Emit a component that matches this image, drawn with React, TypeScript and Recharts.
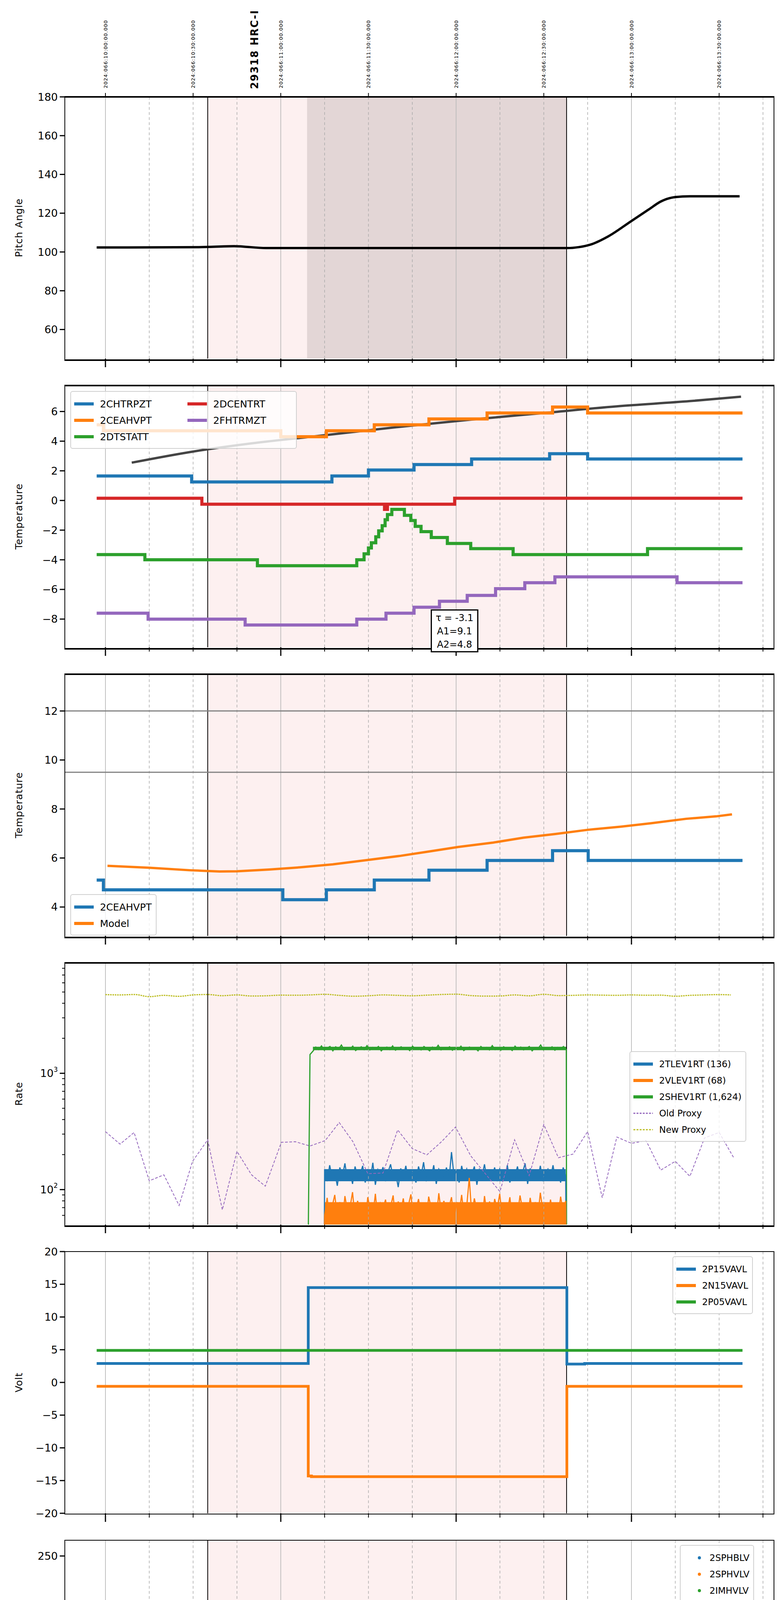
import React from 'react';
import { ComposedChart, Line, Scatter, Area, XAxis, YAxis, ReferenceLine, ReferenceArea } from 'recharts';

// ---------- time axis (minutes after 05:00) ----------
const xDomain: [number, number] = [-13.9, 228.5];
const bottomTicks = [0, 15, 30, 45, 60, 75, 90, 105, 120, 135, 150, 165, 180, 195, 210, 225];
const hourLabels = ['05h', '06h', '07h', '08h'];
const topTicks = [0, 30, 51, 60, 90, 120, 150, 180, 210];
const topTickLabels: Record<number, string> = {
  0: '2024:066:10:00:00.000', 30: '2024:066:10:30:00.000', 60: '2024:066:11:00:00.000',
  90: '2024:066:11:30:00.000', 120: '2024:066:12:00:00.000', 150: '2024:066:12:30:00.000',
  180: '2024:066:13:00:00.000', 210: '2024:066:13:30:00.000',
};
const obsTime = 51;
const obsLabel = '29318 HRC-I';
const shadeStart = 35;
const shadeEnd = 157.8;
const darkStart = 69;
const xLabel = '2024-03-06 (066)';

// ---------- panel 1 ----------
const pitchT = [-3, 32, 44, 55, 100, 158, 162, 166, 172, 180, 186, 190, 195, 200, 217];
const pitchV = [102.3, 102.5, 103, 102, 102, 102, 102.5, 103.8, 108, 116, 122, 126, 128.3, 128.7, 128.7];

// ---------- panel 2 ----------
const chtrpztT = [-3, 29.5, 77.5, 90, 105.6, 125.3, 152, 165, 218];
const chtrpztV = [1.65, 1.25, 1.65, 2.05, 2.42, 2.8, 3.15, 2.8, 2.8];
const ceahvptT = [-3, -0.7, 60, 75.6, 92, 110.7, 130.6, 153, 165, 218];
const ceahvptV = [5.1, 4.7, 4.3, 4.7, 5.1, 5.5, 5.9, 6.3, 5.9, 5.9];
const dtstattT = [-3, 13.5, 52, 86, 88.5, 90, 91, 92.5, 93.5, 94.7, 95.7, 96.5, 98, 102.3, 104.5, 106, 108, 111.5, 117, 125, 139.5, 185.5, 218];
const dtstattV = [-3.65, -4.0, -4.4, -4.0, -3.6, -3.2, -2.85, -2.45, -2.05, -1.7, -1.3, -0.95, -0.6, -1.0, -1.35, -1.75, -2.1, -2.5, -2.9, -3.25, -3.65, -3.25, -3.25];
const dcentrtT = [-3, 33, 95.5, 96.5, 119.5, 218];
const dcentrtV = [0.15, -0.25, -0.6, -0.25, 0.15, 0.15];
const fhtrmztT = [-3, 14.6, 47.8, 86, 96, 105.6, 114.3, 123.8, 133.5, 143.5, 153.8, 195.6, 218];
const fhtrmztV = [-7.6, -8.0, -8.4, -8.0, -7.6, -7.2, -6.8, -6.4, -5.95, -5.55, -5.15, -5.55, -5.55];
const fitT = [9, 30, 50, 75, 100, 125, 150, 175, 200, 217.5];
const fitV = [2.55, 3.3, 3.85, 4.4, 4.95, 5.45, 5.9, 6.35, 6.7, 7.0];
const fitText = ['τ = -3.1', 'A1=9.1', 'A2=4.8'];

// ---------- panel 3 ----------
const ceahvp3T = [-3, -0.7, 60.7, 75.6, 92, 110.7, 130.6, 153, 165.2, 218];
const ceahvp3V = [5.1, 4.7, 4.3, 4.7, 5.1, 5.5, 5.9, 6.3, 5.9, 5.9];
const modelT = [0.7, 15.2, 29, 39, 45, 56, 66.7, 77.8, 89.8, 101, 111, 120.7, 132.7, 143, 154, 165, 176.4, 186.7, 198.7, 209, 214.4];
const modelV = [5.68, 5.6, 5.5, 5.45, 5.46, 5.53, 5.62, 5.74, 5.92, 6.09, 6.27, 6.45, 6.63, 6.83, 6.98, 7.15, 7.28, 7.42, 7.6, 7.7, 7.78];
const limitLines = [12, 9.5];

// ---------- panel 4 ----------
const tlevRange = [75, 157.5];
const tlevV = [150,118,162,125,140,108,155,130,168,120,145,112,158,128,135,160,115,150,122,170,110,148,132,156,118,142,165,125,138,105,152,128,160,120,146,135,115,158,130,172,118,140,126,162,112,150,138,124,155,120,210,130,145,115,160,128,150,122,135,158,110,148,130,165,120,142,126,155,118,150,136,124,162,115,145,130,158,120,140,168,112,152,128,145,122,160,118,138,150,126,162,120,142,115,155,130];
const tlevBandT = [75, 157.5];
const tlevBandLo = [118, 118];
const tlevBandHi = [150, 150];
const vlevRange = [75, 157.5];
const vlevV = [60,85,55,72,90,58,78,52,88,65,70,95,56,80,62,74,50,86,66,59,92,54,76,68,82,57,71,89,53,79,64,84,58,73,91,55,67,83,60,77,52,87,69,75,56,93,62,80,58,70,86,54,78,63,90,57,72,126,59,84,66,74,51,88,61,79,55,83,68,92,57,71,64,86,53,76,60,89,67,73,56,85,62,78,58,94,65,70,54,82,61,77,59,87,63,80];
const vlevBandT = [75, 157.5];
const vlevBandLo = [50, 50];
const vlevBandHi = [78, 78];
const shevRange = [71, 157.7];
const shevV = [1550,1680,1600,1720,1580,1650,1700,1560,1690,1620,1750,1580,1660,1610,1710,1570,1640,1690,1600,1730,1590,1670,1620,1700,1560,1650,1680,1600,1720,1580,1640,1690,1610,1660,1570,1710,1620,1650,1590,1700,1630,1560,1680,1610,1740,1590,1650,1620,1690,1580,1660,1600,1710,1570,1640,1680,1610,1650,1560,1700,1620,1670,1590,1730,1600,1660,1580,1690,1620,1650,1570,1710,1610,1680,1590,1640,1700,1560,1660,1620,1750,1590,1650,1610,1690,1580,1670,1620,1700,1600];
const shevBandT = [71, 157.7];
const shevBandLo = [1580, 1580];
const shevBandHi = [1690, 1690];
const oldProxyT = [0,5,9.8,15,20,25.2,29.8,35,40,45,50,54.7,60.2,65,70,75.2,80,84.7,89.8,95,100,105,110,115,119.8,125,130,135,140,145,150,155,160,165,170,175,180,185,190,195,200,205,210,215];
const oldProxyV = [315,246,310,119,134,73,175,268,67,213,134,107,255,258,237,264,377,258,137,139,326,225,199,258,345,195,137,96,268,132,363,188,202,315,85,283,250,264,147,175,130,278,310,188];
const newProxyT = [0,5,10,15,20,25,30,35,40,45,50,55,60,65,70,75,80,85,90,95,100,105,110,115,120,125,130,135,140,145,150,155,160,165,170,175,180,185,190,195,200,205,210,214];
const newProxyV = [4750,4720,4760,4560,4680,4590,4720,4760,4650,4720,4620,4640,4700,4690,4720,4780,4680,4600,4640,4720,4680,4640,4700,4760,4790,4660,4610,4620,4720,4640,4780,4660,4680,4720,4700,4680,4720,4690,4700,4600,4680,4720,4750,4720];
const rateTicks = [60,70,80,90,100,200,300,400,500,600,700,800,900,1000,2000,3000,4000,5000,6000,7000,8000];

// ---------- panel 5 ----------
const p15T = [-3, 69.4, 157.9, 164, 218];
const p15V = [2.9, 14.5, 2.8, 2.9, 2.9];
const n15T = [-3, 69.4, 70.5, 157.9, 218];
const n15V = [-0.6, -14.3, -14.4, -0.6, -0.6];
const p05T = [-3, 218];
const p05V = [4.9, 4.9];

// ---------- panel 6 ----------
const imhblvPtsT = [70.3, 70.4, 70.5, 70.6, 70.8, 71.5, 72, 72.6, 73.2, 74];
const imhblvPtsV = [127, 126, 119, 106, 105, 101, 97, 93, 90, 87];
const imhblvT = [74.5, 158];
const imhblvV = [86, 86];
const imhvlvPtsT = [70.5, 71, 71.5, 72.2, 73, 73.8, 74.5];
const imhvlvPtsV = [100, 99, 96, 90, 86, 82, 80];
const imhvlvT = [75, 158];
const imhvlvV = [79, 79];

// ---------- panel 7 ----------
const spinT = [69.4, 85, 86.5, 87.5, 88.5, 89.5, 90.5, 92, 93.3, 94.7, 96.2, 98, 101.8, 104, 106, 108, 110.5, 114, 119.5, 127, 140, 157.2];
const spinV = [0.8, 1.3, 1.75, 2.2, 2.7, 3.2, 3.65, 4.15, 4.65, 5.2, 5.7, 6.2, 5.7, 5.15, 4.6, 4.1, 3.6, 3.15, 2.65, 2.2, 1.7, 1.7];
const sphvT = [69.4, 69.8, 76.5, 112.4, 138.3, 146.8, 147.2, 157.2];
const sphvV = [12.5, 13.0, 12.6, 13.0, 13.3, 12.9, 13.3, 13.3];
const iminT = [69.4, 71.5, 72.5, 98.4, 157.2];
const iminV = [-0.55, 0, -0.55, -0.1, -0.1];
const imhvT = [69.4, 69.6, 76, 85, 92.4, 100.6, 110, 119.8, 131, 143, 155.2, 155.6, 156.7, 157.8, 157.9];
const imhvV = [-5, 12.0, 12.3, 12.65, 13.0, 13.35, 13.65, 14.0, 14.3, 14.65, 15.0, 14.65, 15.0, -5, -5];

// ---------- panel 8 ----------
const fht8T = [-3, 14.6, 47.8, 86, 90, 90.6, 95.8, 105.6, 114.3, 123.8, 133.5, 143.5, 153.8, 195.6, 218];
const fht8V = [-7.6, -8.0, -8.4, -8.0, -7.6, -8.0, -7.6, -7.2, -6.8, -6.4, -6.0, -5.6, -5.2, -5.6, -5.6];
const fradT = [-3, 32.4, 67.9, 75.3, 86.7, 96.7, 105.9, 115.5, 125.5, 135.8, 147.2, 157.9, 172.4, 218];
const fradV = [-10.5, -10.9, -11.35, -10.9, -10.5, -10.05, -9.65, -9.2, -8.8, -8.4, -8.0, -7.6, -8.0, -8.0];
const feprT = [69.4, 69.5, 72.2, 75.3, 78, 81.6, 86.7, 93.2, 100.8, 109.2, 117.7, 127, 136.9, 147.6, 157.5, 157.6];
const feprV = [-9.7, -8.55, -8.1, -7.7, -7.3, -6.85, -6.45, -6.05, -5.6, -5.2, -4.75, -4.35, -3.95, -3.55, -5.7, -5.7];
const fe00T = [69.4, 69.5, 76, 76.5, 77, 77.5, 78.3, 84.4, 84.8, 86.2, 92.6, 93, 93.2, 96.4, 96.8, 99.6, 106.1, 112.9, 120.2, 122.4, 122.8, 124.8, 125.2, 127.5, 131.9, 132.3, 134.7, 142.9, 151.2, 157.8, 157.9];
const fe00V = [-13, -9.7, -10.45, -9.7, -10.45, -9.7, -9.3, -8.6, -9.3, -8.95, -9.75, -8.95, -8.55, -8.2, -8.55, -8.2, -7.85, -7.5, -7.1, -7.85, -7.1, -7.85, -7.1, -6.75, -6.4, -6.75, -6.4, -6.05, -5.7, -13, -13];

// ---------- helpers ----------
const C = { blue: '#1f77b4', orange: '#ff7f0e', green: '#2ca02c', red: '#d62728', purple: '#9467bd', olive: '#bcbd22' };
const zip = (t: number[], v: number[]) => t.map((x, i) => ({ t: x, v: v[i] }));
const band = (t: number[], lo: number[], hi: number[]) => t.map((x, i) => ({ t: x, r: [lo[i], hi[i]] }));
const spread = (r: number[], v: number[]) => v.map((y, i) => ({ t: r[0] + (i * (r[1] - r[0])) / (v.length - 1), v: y }));

const W = 2000;
const LEFT = 166;
const RIGHT = 20;
const PH = 670;
const FONT = 'DejaVu Sans, sans-serif';

const BottomTick = (showLabels: boolean) => (props: any) => {
  const { x, y, payload } = props;
  const v = payload.value;
  const major = v % 60 === 0;
  return (
    <g>
      <line x1={x} x2={x} y1={y} y2={y + (major ? 22 : 11)} stroke="#000" strokeWidth={major ? 3 : 2} />
      {showLabels && !major && (
        <text x={x} y={y + 30} textAnchor="middle" fontSize={17} fontFamily={FONT}>{v % 60}</text>
      )}
      {showLabels && major && (
        <text x={x} y={y + 56} textAnchor="middle" fontSize={28} fontFamily={FONT}>{hourLabels[v / 60]}</text>
      )}
    </g>
  );
};

const TopTick = (props: any) => {
  const { x, y, payload } = props;
  const v = payload.value;
  if (v === obsTime) {
    return (
      <text x={x} y={y - 20} transform={`rotate(-90 ${x} ${y - 20})`} fontSize={26} fontWeight="bold" fontFamily={FONT} dominantBaseline="central" letterSpacing={2}>{obsLabel}</text>
    );
  }
  return (
    <g>
      <line x1={x} x2={x} y1={y - 10} y2={y} stroke="#000" strokeWidth={2} />
      <text x={x} y={y - 22} transform={`rotate(-90 ${x} ${y - 22})`} fontSize={13} fontFamily={FONT} dominantBaseline="central" letterSpacing={1}>{topTickLabels[v]}</text>
    </g>
  );
};

const YTick = (fmt?: (v: number) => any, isMajor?: (v: number) => boolean) => (props: any) => {
  const { x, y, payload } = props;
  const v = payload.value;
  const major = isMajor ? isMajor(v) : true;
  return (
    <g>
      <line x1={x - (major ? 13 : 7)} x2={x} y1={y} y2={y} stroke="#000" strokeWidth={major ? 3 : 2} />
      {major && (
        <text x={x - 18} y={y} textAnchor="end" dominantBaseline="central" fontSize={27} fontFamily={FONT}>{fmt ? fmt(v) : String(v).replace('-', '−')}</text>
      )}
    </g>
  );
};

type LegendItem = { name: string; color: string; kind?: 'line' | 'dash' | 'dot' };
function LegendBox({ items, left, top, cols = 1, colW = 290, fontSize = 25 }: { items: LegendItem[][] | LegendItem[]; left: number; top: number; cols?: number; colW?: number; fontSize?: number }) {
  const columns: LegendItem[][] = cols > 1 ? (items as LegendItem[][]) : [items as LegendItem[]];
  return (
    <div style={{ position: 'absolute', left, top, background: 'rgba(255,255,255,0.8)', border: '2px solid #d0d0d0', borderRadius: 6, padding: '10px 10px 8px 6px', display: 'flex', gap: 20, fontFamily: FONT, fontSize }}>
      {columns.map((col, ci) => (
        <div key={ci} style={{ width: cols > 1 ? colW - 20 : undefined }}>
          {col.map((it) => (
            <div key={it.name} style={{ display: 'flex', alignItems: 'center', height: 42 }}>
              <svg width={56} height={20} style={{ marginRight: 12 }}>
                {it.kind === 'dot' ? (
                  <circle cx={42} cy={10} r={4} fill={it.color} />
                ) : (
                  <line x1={2} x2={52} y1={10} y2={10} stroke={it.color} strokeWidth={it.kind === 'dash' ? 3 : 8} strokeDasharray={it.kind === 'dash' ? '5 3' : undefined} />
                )}
              </svg>
              <span style={{ whiteSpace: 'nowrap' }}>{it.name}</span>
            </div>
          ))}
        </div>
      ))}
    </div>
  );
}

function YLabel({ text, top }: { text: string; top: number }) {
  return (
    <svg style={{ position: 'absolute', left: 0, top: top, overflow: 'visible' }} width={100} height={PH}>
      <text x={48} y={PH / 2} transform={`rotate(-90 48 ${PH / 2})`} textAnchor="middle" dominantBaseline="central" fontSize={25} fontFamily={FONT} letterSpacing={1}>{text}</text>
    </svg>
  );
}

function Frame({ top, thick = true }: { top: number; thick?: boolean }) {
  const t = thick ? 4 : 2;
  return (
    <div style={{ position: 'absolute', left: LEFT, top: top - t / 2, width: W - LEFT - RIGHT, height: PH, borderTop: `${t}px solid #000`, borderBottom: `${t}px solid #000`, borderLeft: '2px solid #000', borderRight: '2px solid #000', boxSizing: 'content-box', marginLeft: -1, pointerEvents: 'none' }} />
  );
}

function background(dark: boolean) {
  const els: any[] = [
    <ReferenceArea key="shade" x1={shadeStart} x2={shadeEnd} fill="#fdf0f0" fillOpacity={1} stroke="none" ifOverflow="hidden" />,
  ];
  if (dark) els.push(<ReferenceArea key="dark" x1={darkStart} x2={shadeEnd} fill="#e3d6d6" fillOpacity={1} stroke="none" />);
  bottomTicks.forEach((v) => {
    const major = v % 60 === 0;
    els.push(<ReferenceLine key={'g' + v} x={v} stroke={major ? '#bbbbbb' : '#aaaaaa'} strokeWidth={major ? 1.8 : 1.5} strokeDasharray={major ? undefined : '7 6'} />);
  });
  els.push(<ReferenceLine key="s1" x={shadeStart} stroke="#000" strokeWidth={2} />);
  els.push(<ReferenceLine key="s2" x={shadeEnd} stroke="#000" strokeWidth={2} />);
  return els;
}

function Panel({ top, topAxis = false, last = false, yDomain, yTicks, yScale, tick, children, dark = false }: any) {
  const mTop = topAxis ? 0 : 10;
  const topH = topAxis ? top : 0;
  const botH = last ? 120 : 30;
  const h = mTop + topH + PH + botH;
  const chartTop = top - mTop - topH;
  return (
    <div style={{ position: 'absolute', left: 0, top: chartTop }}>
      <ComposedChart width={W} height={h} margin={{ top: mTop, right: RIGHT, bottom: 0, left: 0 }}>
        <XAxis xAxisId="b" type="number" dataKey="t" domain={xDomain} ticks={bottomTicks} interval={0} allowDataOverflow axisLine={false} tickLine={false} tickSize={0} tickMargin={0} height={botH} tick={BottomTick(last)} />
        {topAxis && (
          <XAxis xAxisId="top" orientation="top" type="number" dataKey="t" domain={xDomain} ticks={topTicks} interval={0} allowDataOverflow axisLine={false} tickLine={false} tickSize={0} tickMargin={0} height={topH} tick={TopTick} />
        )}
        <YAxis yAxisId="y" type="number" domain={yDomain} ticks={yTicks} interval={0} scale={yScale || 'linear'} allowDataOverflow axisLine={false} tickLine={false} tickSize={0} tickMargin={0} width={LEFT} tick={tick || YTick()} />
        {background(dark).map((e: any) => React.cloneElement(e, { xAxisId: 'b', yAxisId: 'y' }))}
        {React.Children.map(children, (c: any) => c && React.cloneElement(c, { xAxisId: 'b', yAxisId: 'y' }))}
      </ComposedChart>
      {last && (
        <div style={{ position: 'absolute', left: LEFT, width: W - LEFT - RIGHT, top: mTop + PH + 78, textAlign: 'center', fontFamily: FONT, fontSize: 30 }}>{xLabel}</div>
      )}
    </div>
  );
}

const TOPS = [248, 987, 1726, 2465, 3204, 3943, 4682, 5421];

const stepLine = (key: string, data: any[], color: string, w = 8) => (
  <Line key={key} data={data} dataKey="v" type="stepAfter" stroke={color} strokeWidth={w} dot={false} isAnimationActive={false} />
);
const bandArea = (key: string, data: any[], color: string) => (
  <Area key={key} data={data} dataKey="r" type="linear" stroke="none" fill={color} fillOpacity={1} isAnimationActive={false} />
);

export default function App() {
  const rateFmt = (v: number) => (
    <>
      10<tspan dy={-10} fontSize={17}>{v === 100 ? 2 : 3}</tspan>
    </>
  );
  return (
    <div style={{ position: 'relative', margin: -8, width: W, height: 6200, background: '#fff', fontFamily: FONT, overflow: 'hidden' }}>
      {/* Panel 1 */}
      <Panel top={TOPS[0]} topAxis dark yDomain={[45, 180]} yTicks={[60, 80, 100, 120, 140, 160, 180]}>
        <Line data={zip(pitchT, pitchV)} dataKey="v" type="monotone" stroke="#000" strokeWidth={6} dot={false} isAnimationActive={false} />
      </Panel>
      <Frame top={TOPS[0]} />
      <YLabel text="Pitch Angle" top={TOPS[0]} />

      {/* Panel 2 */}
      <Panel top={TOPS[1]} yDomain={[-9.9, 7.75]} yTicks={[-8, -6, -4, -2, 0, 2, 4, 6]}>
        <Line data={zip(fitT, fitV)} dataKey="v" type="monotone" stroke="#444444" strokeWidth={6} dot={false} isAnimationActive={false} />
        {stepLine('a', zip(chtrpztT, chtrpztV), C.blue)}
        {stepLine('b', zip(ceahvptT, ceahvptV), C.orange)}
        {stepLine('c', zip(dtstattT, dtstattV), C.green)}
        {stepLine('d', zip(dcentrtT, dcentrtV), C.red)}
        {stepLine('e', zip(fhtrmztT, fhtrmztV), C.purple)}
      </Panel>
      <Frame top={TOPS[1]} />
      <YLabel text="Temperature" top={TOPS[1]} />
      <LegendBox left={180} top={TOPS[1] + 14} cols={2} colW={290} items={[
        [{ name: '2CHTRPZT', color: C.blue }, { name: '2CEAHVPT', color: C.orange }, { name: '2DTSTATT', color: C.green }],
        [{ name: '2DCENTRT', color: C.red }, { name: '2FHTRMZT', color: C.purple }],
      ]} />
      <div style={{ position: 'absolute', left: 1103, top: 1560, width: 122, height: 110, border: '3px solid #000', background: '#fff', fontFamily: FONT, fontSize: 24, lineHeight: '34px', textAlign: 'center', boxSizing: 'border-box', paddingTop: 2 }}>
        {fitText.map((s) => <div key={s}>{s}</div>)}
      </div>

      {/* Panel 3 */}
      <Panel top={TOPS[2]} yDomain={[2.82, 13.5]} yTicks={[4, 6, 8, 10, 12]}>
        {limitLines.map((y) => <ReferenceLine key={'l' + y} y={y} stroke="#808080" strokeWidth={3} />)}
        {stepLine('a', zip(ceahvp3T, ceahvp3V), C.blue)}
        <Line data={zip(modelT, modelV)} dataKey="v" type="linear" stroke={C.orange} strokeWidth={6} dot={false} isAnimationActive={false} />
      </Panel>
      <Frame top={TOPS[2]} />
      <YLabel text="Temperature" top={TOPS[2]} />
      <LegendBox left={180} top={TOPS[2] + 563} items={[{ name: '2CEAHVPT', color: C.blue }, { name: 'Model', color: C.orange }]} />

      {/* Panel 4 */}
      <Panel top={TOPS[3]} yDomain={[50, 8900]} yTicks={rateTicks} yScale="log" tick={YTick(rateFmt, (v: number) => v === 100 || v === 1000)}>
        {bandArea('sb', band(shevBandT, shevBandLo, shevBandHi), C.green)}
        <Line data={[{ t: 69.4, v: 40 }, { t: 70, v: 1450 }, ...spread(shevRange, shevV), { t: 157.8, v: 40 }]} dataKey="v" type="linear" stroke={C.green} strokeWidth={3} dot={false} isAnimationActive={false} />
        {bandArea('tb', band(tlevBandT, tlevBandLo, tlevBandHi), C.blue)}
        <Line data={[{ t: 74.9, v: 40 }, ...spread(tlevRange, tlevV), { t: 157.6, v: 40 }]} dataKey="v" type="linear" stroke={C.blue} strokeWidth={3} dot={false} isAnimationActive={false} />
        {bandArea('vb', band(vlevBandT, vlevBandLo, vlevBandHi), C.orange)}
        <Line data={[{ t: 74.9, v: 40 }, ...spread(vlevRange, vlevV), { t: 157.6, v: 40 }]} dataKey="v" type="linear" stroke={C.orange} strokeWidth={3} dot={false} isAnimationActive={false} />
        <Line data={zip(oldProxyT, oldProxyV)} dataKey="v" type="linear" stroke={C.purple} strokeWidth={2} strokeDasharray="7 4" dot={false} isAnimationActive={false} />
        <Line data={zip(newProxyT, newProxyV)} dataKey="v" type="monotone" stroke={C.olive} strokeWidth={3} strokeDasharray="4 2" dot={false} isAnimationActive={false} />
      </Panel>
      <Frame top={TOPS[3]} />
      <YLabel text="Rate" top={TOPS[3]} />
      <LegendBox left={1612} top={TOPS[3] + 226} fontSize={23} items={[
        { name: '2TLEV1RT (136)', color: C.blue }, { name: '2VLEV1RT (68)', color: C.orange }, { name: '2SHEV1RT (1,624)', color: C.green },
        { name: 'Old Proxy', color: C.purple, kind: 'dash' }, { name: 'New Proxy', color: C.olive, kind: 'dash' },
      ]} />

      {/* Panel 5 */}
      <Panel top={TOPS[4]} yDomain={[-20, 20]} yTicks={[-20, -15, -10, -5, 0, 5, 10, 15, 20]}>
        {stepLine('a', zip(p15T, p15V), C.blue, 7)}
        {stepLine('b', zip(n15T, n15V), C.orange, 7)}
        {stepLine('c', zip(p05T, p05V), C.green, 7)}
      </Panel>
      <Frame top={TOPS[4]} thick={false} />
      <YLabel text="Volt" top={TOPS[4]} />
      <LegendBox left={1722} top={TOPS[4] + 12} fontSize={23} items={[{ name: '2P15VAVL', color: C.blue }, { name: '2N15VAVL', color: C.orange }, { name: '2P05VAVL', color: C.green }]} />

      {/* Panel 6 */}
      <Panel top={TOPS[5]} yDomain={[0, 266]} yTicks={[0, 50, 100, 150, 200, 250]}>
        <Line data={zip(imhvlvT, imhvlvV)} dataKey="v" type="linear" stroke={C.green} strokeWidth={10} dot={false} isAnimationActive={false} />
        <Scatter data={zip(imhvlvPtsT, imhvlvPtsV)} dataKey="v" fill={C.green} shape={(p: any) => <circle cx={p.cx} cy={p.cy} r={5} fill={C.green} />} isAnimationActive={false} />
        <Line data={zip(imhblvT, imhblvV)} dataKey="v" type="linear" stroke={C.red} strokeWidth={10} dot={false} isAnimationActive={false} />
        <Scatter data={zip(imhblvPtsT, imhblvPtsV)} dataKey="v" fill={C.red} shape={(p: any) => <circle cx={p.cx} cy={p.cy} r={5} fill={C.red} />} isAnimationActive={false} />
      </Panel>
      <Frame top={TOPS[5]} thick={false} />
      <YLabel text="HV Monitor" top={TOPS[5]} />
      <LegendBox left={1741} top={TOPS[5] + 12} fontSize={23} items={[
        { name: '2SPHBLV', color: C.blue, kind: 'dot' }, { name: '2SPHVLV', color: C.orange, kind: 'dot' },
        { name: '2IMHVLV', color: C.green, kind: 'dot' }, { name: '2IMHBLV', color: C.red, kind: 'dot' },
      ]} />

      {/* Panel 7 */}
      <Panel top={TOPS[6]} yDomain={[-2.02, 15.8]} yTicks={[-2, 0, 2, 4, 6, 8, 10, 12, 14]}>
        {stepLine('a', zip(spinT, spinV), C.blue)}
        {stepLine('b', zip(sphvT, sphvV), C.orange)}
        {stepLine('c', zip(iminT, iminV), C.green)}
        {stepLine('d', zip(imhvT, imhvV), C.red, 7)}
      </Panel>
      <Frame top={TOPS[6]} />
      <YLabel text="Detector Temp" top={TOPS[6]} />
      <LegendBox left={1718} top={TOPS[6] + 14} items={[
        { name: '2SPINATM', color: C.blue }, { name: '2SPHVATM', color: C.orange }, { name: '2IMINATM', color: C.green }, { name: '2IMHVATM', color: C.red },
      ]} />

      {/* Panel 8 */}
      <Panel top={TOPS[7]} last yDomain={[-12.0, -2.86]} yTicks={[-10, -8, -6, -4]}>
        {stepLine('a', zip(fht8T, fht8V), C.blue)}
        {stepLine('b', zip(fradT, fradV), C.orange)}
        {stepLine('c', zip(feprT, feprV), C.green)}
        {stepLine('d', zip(fe00T, fe00V), C.red, 7)}
      </Panel>
      <Frame top={TOPS[7]} />
      <YLabel text="FEA Temp" top={TOPS[7]} />
      <LegendBox left={180} top={TOPS[7] + 14} items={[
        { name: '2FHTRMZT', color: C.blue }, { name: '2FRADPYT', color: C.orange }, { name: '2FEPRATM', color: C.green }, { name: '2FE00ATM', color: C.red },
      ]} />
    </div>
  );
}
